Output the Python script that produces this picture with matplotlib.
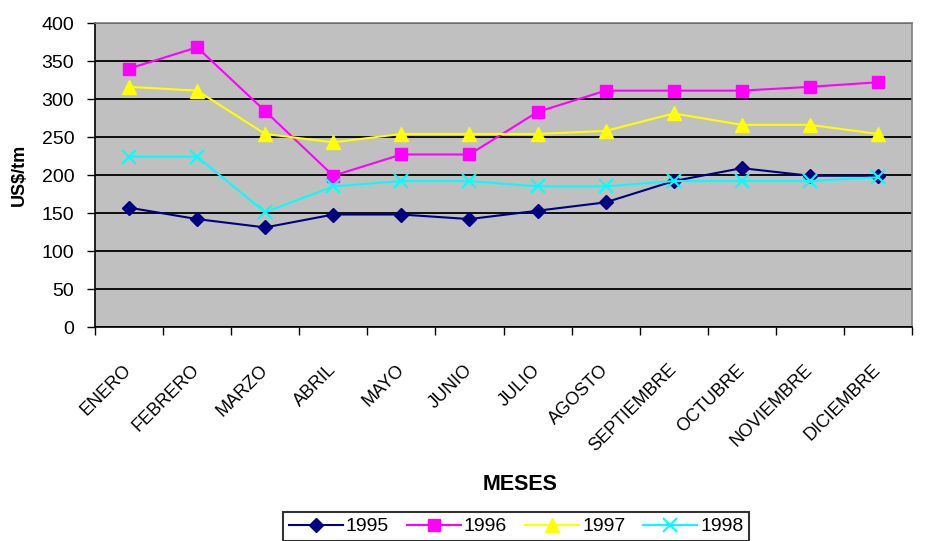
import matplotlib
matplotlib.use("Agg")
import matplotlib.pyplot as plt
import numpy as np

meses = ["ENERO", "FEBRERO", "MARZO", "ABRIL", "MAYO", "JUNIO", "JULIO",
         "AGOSTO", "SEPTIEMBRE", "OCTUBRE", "NOVIEMBRE", "DICIEMBRE"]
s1995 = [157, 142, 131, 148, 148, 142, 153, 164, 192, 209, 199, 199]
s1996 = [340, 368, 284, 199, 227, 227, 283, 311, 311, 311, 316, 322]
s1997 = [316, 311, 254, 243, 254, 254, 254, 258, 281, 266, 266, 254]
s1998 = [224, 224, 151, 185, 192, 192, 185, 185, 192, 192, 192, 197]
yticks = [0, 50, 100, 150, 200, 250, 300, 350, 400]

plt.rcParams['font.family'] = ['Liberation Sans', 'DejaVu Sans']

W, H = 933, 541
fig = plt.figure(figsize=(W/100, H/100), dpi=100)
ax = fig.add_axes([95/W, (H-327)/H, (912-95)/W, (327-23)/H])
ax.set_facecolor('#C0C0C0')

x = np.arange(len(meses))
ax.plot(x, s1995, color='#000080', marker='D', markersize=7, lw=1.5, label='1995', zorder=3)
ax.plot(x, s1996, color='#FF00FF', marker='s', markersize=8, lw=1.5, label='1996', zorder=3)
ax.plot(x, s1997, color='#FFFF00', marker='^', markersize=10, lw=1.5, label='1997', zorder=3)
ax.plot(x, s1998, color='#00FFFF', marker='x', markersize=10, markeredgewidth=1.5, lw=1.5, label='1998', zorder=4)

ax.set_ylim(0, 400)
ax.set_yticks(yticks)
ax.yaxis.grid(True, color='black', lw=1.3)
ax.set_axisbelow(True)
ax.tick_params(axis='y', labelsize=14, direction='out', length=6, width=1, pad=9)

ax.set_xlim(-0.5, len(meses) - 0.5)
ax.set_xticks(np.arange(-0.5, len(meses), 1.0))
ax.set_xticklabels([])
ax.tick_params(axis='x', direction='out', length=6, width=1)
ax.set_xticks(x, minor=True)
ax.set_xticklabels(meses, minor=True, rotation=45, ha='right', va='center',
                   rotation_mode='anchor', fontsize=13)
ax.tick_params(axis='x', which='minor', length=0, pad=29)

for s in ['left', 'bottom']:
    ax.spines[s].set_color('black')
    ax.spines[s].set_linewidth(1.2)
for s in ['top', 'right']:
    ax.spines[s].set_color('#808080')
    ax.spines[s].set_linewidth(1.2)

ax.set_ylabel('US$/tm', fontsize=13, fontweight='bold')
ax.yaxis.set_label_coords((28 - 95) / (912 - 95), 0.5)
fig.text(520/W, 1 - 484/H, 'MESES', ha='center', va='center', fontsize=15.5, fontweight='bold')

leg = fig.legend(loc='upper center', bbox_to_anchor=(516/W, 1 - 512/H), ncol=4,
                 frameon=True, fancybox=False, edgecolor='black', fontsize=14,
                 handlelength=2.8, handletextpad=0.15, columnspacing=0.9,
                 borderpad=0.3, borderaxespad=0)
leg.get_frame().set_linewidth(1.5)

fig.savefig('out.png', dpi=100)
